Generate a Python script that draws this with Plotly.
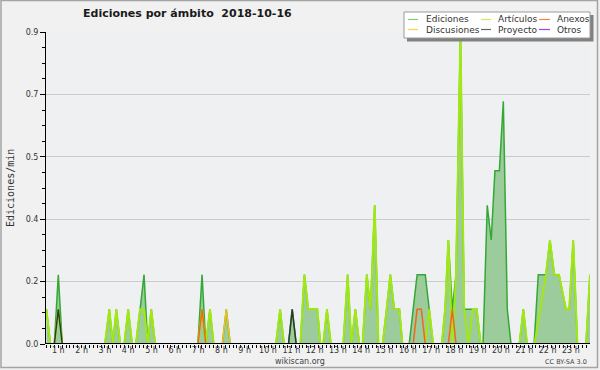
import plotly.graph_objects as go

# ---------------- data (hours of day, edits/min) ----------------
edic_t = [0.49, 0.66, 0.83, 1.00, 1.17,
          3.00, 3.19, 3.34, 3.49, 3.66, 3.83, 4.00, 4.17, 4.33, 4.51, 4.68, 4.84, 4.99, 5.16,
          6.99, 7.17, 7.33, 7.51, 7.67, 8.04, 8.21, 8.38,
          10.34, 10.52, 10.69, 10.88, 11.04, 11.21, 11.39, 11.56, 11.73, 12.12, 12.25, 12.37, 12.53, 12.70,
          13.23, 13.42, 13.58, 13.75, 13.92, 14.06, 14.24, 14.40, 14.58, 14.74, 14.92, 15.09, 15.25, 15.42, 15.64, 15.77,
          16.06, 16.23, 16.40, 16.58, 16.75, 16.92, 17.09,
          17.46, 17.60, 17.74, 17.91, 18.07, 18.26, 18.42, 18.60, 18.79, 18.96, 19.13, 19.23, 19.41, 19.58, 19.74,
          19.93, 20.10, 20.27, 20.43,
          20.79, 20.96, 21.12,
          21.42, 21.60, 21.93, 22.10, 22.29, 22.49, 22.79, 22.93, 23.10, 23.28, 23.65, 23.82]
edic_v = [0.1, 0, 0, 0.2, 0,
          0, 0.1, 0, 0.1, 0, 0, 0.1, 0, 0, 0.1, 0.2, 0, 0.1, 0,
          0, 0.2, 0, 0.1, 0, 0, 0.1, 0,
          0, 0.1, 0, 0, 0.1, 0, 0, 0.2, 0.1, 0.1, 0, 0, 0.1, 0,
          0, 0.2, 0, 0.1, 0, 0, 0.2, 0.1, 0.4, 0, 0, 0.1, 0.2, 0.1, 0.1, 0,
          0, 0.1, 0.2, 0.2, 0.2, 0.1, 0,
          0, 0.1, 0.3, 0.1, 0.2, 0.9, 0.1, 0.1, 0.1, 0.1, 0, 0, 0.4, 0.3, 0.5,
          0.5, 0.7, 0.1, 0,
          0, 0.1, 0,
          0, 0.2, 0.2, 0.3, 0.2, 0.2, 0.1, 0.1, 0.3, 0, 0, 0.2]

art_t = [0.49, 0.66, 0.83, 1.00, 1.17,
         3.00, 3.19, 3.34, 3.49, 3.66, 3.83, 4.00, 4.17, 4.33, 4.51, 4.68, 4.84, 4.99, 5.16,
         6.99, 7.17, 7.33, 7.51, 7.67,
         10.34, 10.52, 10.69,
         11.39, 11.56, 11.73, 12.12, 12.25, 12.37, 12.53, 12.70,
         13.23, 13.42, 13.58, 13.75, 13.92, 14.06, 14.24, 14.40, 14.58, 14.74, 14.92, 15.09, 15.25, 15.42, 15.64, 15.77,
         16.75, 16.92, 17.09,
         17.46, 17.60, 17.74, 17.91, 18.07, 18.26, 18.42, 18.60, 18.79, 18.96, 19.13,
         20.79, 20.96, 21.12,
         21.44, 21.93, 22.10, 22.29, 22.49, 22.79, 22.93, 23.10, 23.28, 23.65, 23.82]
art_v = [0.1, 0, 0, 0.1, 0,
         0, 0.1, 0, 0.1, 0, 0, 0.1, 0, 0, 0.1, 0.1, 0, 0.1, 0,
         0, 0.1, 0, 0.1, 0,
         0, 0.1, 0,
         0, 0.2, 0.1, 0.1, 0, 0, 0.1, 0,
         0, 0.2, 0, 0.1, 0, 0, 0.2, 0.1, 0.4, 0, 0, 0.1, 0.2, 0.1, 0.1, 0,
         0, 0.1, 0,
         0, 0.1, 0.3, 0, 0.2, 0.9, 0.1, 0, 0.1, 0.1, 0,
         0, 0.1, 0,
         0, 0.2, 0.3, 0.2, 0.2, 0.1, 0.1, 0.3, 0, 0, 0.2]

anex_t = [6.99, 7.17, 7.33, 16.23, 16.40, 16.58, 16.75, 17.74, 17.91, 18.07]
anex_v = [0, 0.1, 0, 0, 0.1, 0.1, 0, 0, 0.1, 0]

disc_t = [8.04, 8.21, 8.38]
disc_v = [0, 0.1, 0]

proy_t = [0.83, 1.00, 1.17, 10.88, 11.04, 11.21]
proy_v = [0, 0.1, 0, 0, 0.1, 0]

otros_t = [0.472, 23.82]
otros_v = [0, 0]

hour_ticks = list(range(1, 24))
hour_labels = [f"{h} h" for h in hour_ticks]
y_tickvals = [0, 0.18, 0.36, 0.54, 0.72, 0.9]
y_ticktext = ["0.0", "0.2", "0.4", "0.5", "0.7", "0.9"]

legend_names = ["Ediciones", "Artículos", "Anexos", "Discusiones", "Proyecto", "Otros"]
legend_colors = ["#86c886", "#c8ee5a", "#ff8048", "#ffd24a", "#666666", "#9a46f0"]

# ---------------- figure ----------------
W, H = 600, 370
ML, MR, MT, MB = 46, 10, 32, 26
PW, PH = W - ML - MR, H - MT - MB


def X(px):
    return (px - ML) / PW


def Y(py):
    return (H - MB - py) / PH


fig = go.Figure()
fig.add_trace(go.Scatter(x=edic_t, y=edic_v, mode="lines", fill="tozeroy",
                         fillcolor="#9ccb9c", line=dict(color="#34a834", width=1.5),
                         name="Ediciones", showlegend=False))
fig.add_trace(go.Scatter(x=art_t, y=art_v, mode="lines",
                         line=dict(color="#a2e812", width=2), name="Artículos", showlegend=False))
fig.add_trace(go.Scatter(x=anex_t, y=anex_v, mode="lines",
                         line=dict(color="#f2661c", width=1.5), name="Anexos", showlegend=False))
fig.add_trace(go.Scatter(x=disc_t, y=disc_v, mode="lines",
                         line=dict(color="#f0c020", width=1.5), name="Discusiones", showlegend=False))
fig.add_trace(go.Scatter(x=proy_t, y=proy_v, mode="lines",
                         line=dict(color="#2e3a2e", width=1.5), name="Proyecto", showlegend=False))
fig.add_trace(go.Scatter(x=otros_t, y=otros_v, mode="lines",
                         line=dict(color="#9a46f0", width=1.5), name="Otros", showlegend=False))

tickfont = dict(family="DejaVu Sans", size=8, color="#333333")

fig.update_layout(
    width=W, height=H, autosize=False,
    margin=dict(l=ML, r=MR, t=MT, b=MB, pad=0),
    paper_bgcolor="#f1f1f1", plot_bgcolor="#eef0f2",
    showlegend=False,
    xaxis=dict(range=[0.472, 23.82], tickmode="array", tickvals=hour_ticks, ticktext=hour_labels,
               ticks="", showline=False, showgrid=False, zeroline=False, tickfont=tickfont,
               automargin=False, fixedrange=True,
               minor=dict(tick0=0, dtick=1 / 6, ticks="outside", ticklen=3, tickwidth=1,
                          tickcolor="#000000", showgrid=False)),
    yaxis=dict(range=[0, 0.9], tickmode="array", tickvals=y_tickvals, ticktext=y_ticktext,
               ticks="outside", ticklen=5, tickwidth=1, tickcolor="#000000",
               showline=True, linecolor="#000000", linewidth=1, automargin=False, fixedrange=True,
               showgrid=True, gridcolor="#cccccc", gridwidth=1, zeroline=False, tickfont=tickfont,
               minor=dict(tick0=0, dtick=0.045, ticks="outside", ticklen=3, tickwidth=1,
                          tickcolor="#000000", showgrid=False)),
)

shapes = []
# bottom axis line drawn over traces
shapes.append(dict(type="line", xref="paper", yref="y", x0=0, x1=1, y0=0, y1=0,
                   line=dict(color="#000000", width=2), layer="above"))
# outer frame
shapes.append(dict(type="rect", xref="paper", yref="paper", x0=X(1), x1=X(597.5), y0=Y(367.5), y1=Y(0.5),
                   line=dict(color="#a4a4a4", width=1.5), layer="above"))
# legend box shadow + box
shapes.append(dict(type="rect", xref="paper", yref="paper", x0=X(407), x1=X(593.5), y0=Y(41.5), y1=Y(15),
                   line=dict(width=0), fillcolor="#808080", layer="above"))
shapes.append(dict(type="rect", xref="paper", yref="paper", x0=X(404), x1=X(590), y0=Y(38), y1=Y(12),
                   line=dict(color="#9a9a9a", width=1), fillcolor="#ffffff", layer="above"))

annotations = []
col_line_x = [(408, 418), (481, 491), (539, 550)]
col_text_x = [424, 496, 555]
row_y = [19.5, 29.5]
for i, (name, color) in enumerate(zip(legend_names, legend_colors)):
    r, c = divmod(i, 3)
    x0, x1 = col_line_x[c]
    shapes.append(dict(type="line", xref="paper", yref="paper", x0=X(x0), x1=X(x1),
                       y0=Y(row_y[r]), y1=Y(row_y[r]), line=dict(color=color, width=1.2), layer="above"))
    annotations.append(dict(x=X(col_text_x[c]), y=Y(row_y[r]), xref="paper", yref="paper",
                            text=name, showarrow=False, xanchor="left", yanchor="middle",
                            font=dict(family="DejaVu Sans", size=9, color="#333333")))

annotations.append(dict(x=X(187.5), y=Y(14), xref="paper", yref="paper",
                        text="<b>Ediciones por ámbito  2018-10-16</b>", showarrow=False,
                        xanchor="center", yanchor="middle",
                        font=dict(family="DejaVu Sans", size=11, color="#1a1a1a")))
annotations.append(dict(x=X(10), y=Y(188), xref="paper", yref="paper",
                        text="Ediciones/min", showarrow=False, textangle=-90,
                        xanchor="center", yanchor="middle",
                        font=dict(family="DejaVu Sans Mono", size=10, color="#333333")))
annotations.append(dict(x=X(300), y=Y(361), xref="paper", yref="paper",
                        text="wikiscan.org", showarrow=False, xanchor="center", yanchor="middle",
                        font=dict(family="DejaVu Sans", size=8, color="#444444")))
annotations.append(dict(x=X(589), y=Y(362), xref="paper", yref="paper",
                        text="CC BY-SA 3.0", showarrow=False, xanchor="right", yanchor="middle",
                        font=dict(family="DejaVu Sans", size=6.5, color="#444444")))

fig.update_layout(shapes=shapes, annotations=annotations, hovermode=False)
fig.write_html("out.html", config={"displayModeBar": False, "staticPlot": True},
               post_script="document.body.style.margin='0';document.body.style.padding='0';"
                           "document.body.style.overflow='hidden';")
